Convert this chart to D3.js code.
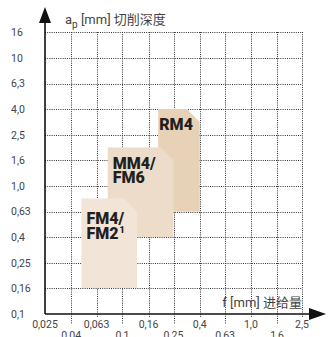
<!DOCTYPE html>
<html>
<head>
<meta charset="utf-8">
<script src="https://cdn.jsdelivr.net/npm/d3@7"></script>
<style>
  html, body { margin: 0; padding: 0; background: #fff; }
  svg { display: block; }
</style>
</head>
<body>
<svg id="chart" width="334" height="337"></svg>
<script>
// Feed f (mm) and depth of cut ap (mm) tick values
const feedTicks = [0.025, 0.04, 0.063, 0.1, 0.16, 0.25, 0.4, 0.63, 1.0, 1.6, 2.5];
const feedLabels = ["0,025", "0,04", "0,063", "0,1", "0,16", "0,25", "0,4", "0,63", "1,0", "1,6", "2,5"];
const depthTicks = [0.1, 0.16, 0.25, 0.4, 0.63, 1.0, 1.6, 2.5, 4.0, 6.3, 10, 16];
const depthLabels = ["0,1", "0,16", "0,25", "0,4", "0,63", "1,0", "1,6", "2,5", "4,0", "6,3", "10", "16"];

// Application areas of the chip breakers (drawn back to front)
const grades = ["RM4", "MM4/FM6", "FM4/FM2"];
const feedMin = [0.19, 0.077, 0.048];
const feedMax = [0.4, 0.25, 0.13];
const depthMin = [0.63, 0.4, 0.16];
const depthMax = [4.0, 2.0, 0.8];
const gradeColors = ["#e7d2b7", "#ecdcc9", "#f2e5d7"];

const svg = d3.select("#chart");
const x = d3.scaleLog().domain([0.025, 2.5]).range([45, 302]);
const y = d3.scaleLog().domain([0.1, 16]).range([314, 32]);

const gridStyle = g => g.attr("stroke", "#333").attr("stroke-width", 1)
  .attr("stroke-dasharray", "1,1.2").attr("fill", "none");

// horizontal grid
svg.append("g").selectAll("line").data(depthTicks.slice(1)).join("line")
  .attr("x1", x(0.025)).attr("x2", x(2.5))
  .attr("y1", d => Math.round(y(d)) + 0.5).attr("y2", d => Math.round(y(d)) + 0.5)
  .call(gridStyle);

// vertical grid, running into the staggered labels below the axis
svg.append("g").selectAll("line").data(feedTicks.slice(1)).join("line")
  .attr("x1", d => Math.round(x(d)) + 0.5).attr("x2", d => Math.round(x(d)) + 0.5)
  .attr("y1", y(16)).attr("y2", (d, i) => y(0.1) + (i % 2 === 0 ? 10 : 3))
  .call(gridStyle);

// application areas with a folded corner
const cut = 13;
const areas = svg.append("g");
grades.forEach((name, i) => {
  const x0 = x(feedMin[i]), x1 = x(feedMax[i]);
  const y0 = y(depthMax[i]), y1 = y(depthMin[i]);
  const path = d3.path();
  path.moveTo(x0, y0);
  path.lineTo(x1 - cut, y0);
  path.lineTo(x1, y0 + cut);
  path.lineTo(x1, y1);
  path.lineTo(x0, y1);
  path.closePath();
  areas.append("path").attr("d", path.toString()).attr("fill", gradeColors[i]);
});

// area labels
const labelFont = "Roboto, 'DejaVu Sans', sans-serif";
const lbl = svg.append("g").attr("font-family", labelFont).attr("font-weight", 900)
  .attr("font-size", 16).attr("fill", "#231f20");
lbl.append("text").attr("x", x(feedMin[0]) + 1).attr("y", y(depthMax[0]) + 21).text("RM4");
const mm = lbl.append("text").attr("x", x(feedMin[1]) + 5).attr("y", y(depthMax[1]) + 21);
mm.append("tspan").text("MM4/");
mm.append("tspan").attr("x", x(feedMin[1]) + 5).attr("dy", 14).text("FM6");
const fm = lbl.append("text").attr("x", x(feedMin[2]) + 5).attr("y", y(depthMax[2]) + 26);
fm.append("tspan").text("FM4/");
fm.append("tspan").attr("x", x(feedMin[2]) + 5).attr("dy", 15).text("FM2");
fm.append("tspan").attr("font-size", 9).attr("dy", -6).attr("dx", 1).text("1");

// axes
const axisG = svg.append("g").attr("stroke", "#111").attr("stroke-width", 1.6);
axisG.append("line").attr("x1", x(0.025)).attr("x2", x(0.025)).attr("y1", 20).attr("y2", y(0.1));
axisG.append("line").attr("x1", x(0.025)).attr("x2", 312).attr("y1", y(0.1)).attr("y2", y(0.1));
svg.append("path").attr("fill", "#111")
  .attr("d", `M${x(0.025)},7 L${x(0.025) + 6},23 L${x(0.025) - 6},23 Z`);
svg.append("path").attr("fill", "#111")
  .attr("d", `M326,${y(0.1)} L309,${y(0.1) - 6} L309,${y(0.1) + 6} Z`);

// tick labels
const tickFont = "Roboto, 'Liberation Sans', sans-serif";
svg.append("g").attr("font-family", tickFont).attr("font-size", 10.5).attr("fill", "#444")
  .selectAll("text").data(depthTicks).join("text")
  .attr("x", 11).attr("y", d => y(d)).attr("dy", "0.35em")
  .text((d, i) => depthLabels[i]);
svg.append("g").attr("font-family", tickFont).attr("font-size", 10.5).attr("fill", "#444")
  .attr("text-anchor", "middle")
  .selectAll("text").data(feedTicks).join("text")
  .attr("x", d => x(d)).attr("y", (d, i) => i % 2 === 0 ? 328 : 338.5)
  .text((d, i) => feedLabels[i]);

// axis titles
const titleFont = "Roboto, 'Noto Sans CJK SC', sans-serif";
const yt = svg.append("text").attr("font-family", titleFont).attr("font-size", 13)
  .attr("fill", "#444").attr("x", 65).attr("y", 23.5);
yt.append("tspan").text("a");
yt.append("tspan").attr("font-size", 10).attr("dy", 4).text("p");
yt.append("tspan").attr("dy", -4).text(" [mm] ");
yt.append("tspan").attr("font-family", "'Noto Sans CJK SC', sans-serif").text("切削深度");
const xt = svg.append("text").attr("font-family", titleFont).attr("font-size", 13)
  .attr("fill", "#444").attr("x", 302).attr("y", 307).attr("text-anchor", "end");
xt.append("tspan").text("f [mm] ");
xt.append("tspan").attr("font-family", "'Noto Sans CJK SC', sans-serif").text("进给量");
</script>
</body>
</html>
